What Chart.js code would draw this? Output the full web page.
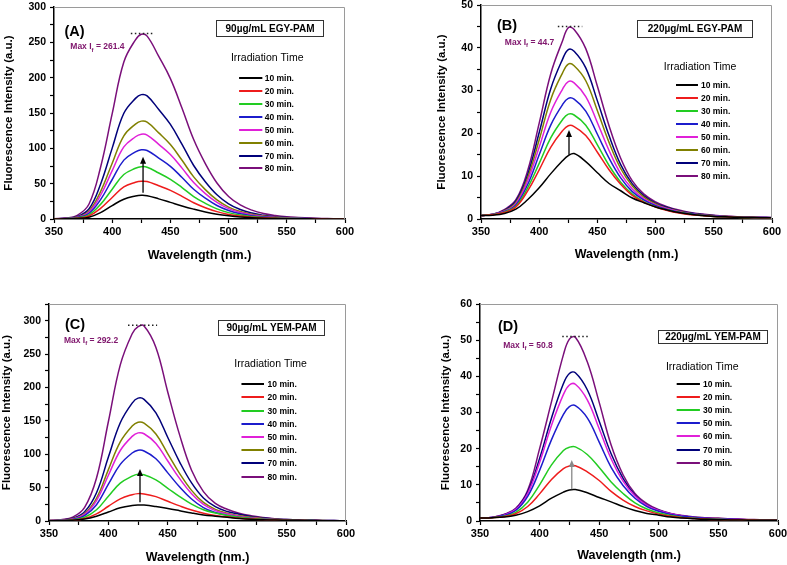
<!DOCTYPE html>
<html>
<head>
<meta charset="utf-8">
<script src="https://cdn.jsdelivr.net/npm/chart.js@4.4.1/dist/chart.umd.min.js"></script>
<style>
  body { margin: 0; background: #fff; width: 787px; height: 565px; position: relative; overflow: hidden; }
  canvas { position: absolute; }
</style>
</head>
<body>
<canvas id="chartA" width="390" height="280" style="left:0;top:0"></canvas>
<canvas id="chartB" width="397" height="280" style="left:390px;top:0"></canvas>
<canvas id="chartC" width="390" height="285" style="left:0;top:280px"></canvas>
<canvas id="chartD" width="397" height="285" style="left:390px;top:280px"></canvas>
<script>
// wavelength grid (nm)
var wavelength = [350,360,370,380,390,400,410,420,425,430,440,450,460,470,480,490,500,510,520,530,540,550,560,570,580,590,600];

var timesABC = ['10 min.','20 min.','30 min.','40 min.','50 min.','60 min.','70 min.','80 min.'];
var timesD = ['10 min.','20 min.','30 min.','50 min.','60 min.','70 min.','80 min.'];
var colorsABC = ['#000000','#ee1c1c','#22cc22','#1c1ccc','#e020d8','#808000','#00007a','#7a0f7a'];
var colorsD = ['#000000','#ee1c1c','#22cc22','#1c1ccc','#e020d8','#00007a','#7a0f7a'];

// (A) 90ug/mL EGY-PAM
var egy90 = [
  [0.1,0.2,0.7,2.5,9,19,28,32.5,33.5,33,28.5,23.5,18.5,14,10,6.8,4.5,2.8,1.8,1.1,0.7,0.4,0.3,0.2,0.1,0.1,0],
  [0.1,0.3,1.1,4.2,15,30.5,45.5,52,53.5,53,47,40.5,32.1,23,16,10.4,6.5,4.1,2.6,1.6,1,0.6,0.4,0.3,0.2,0.1,0.1],
  [0.2,0.4,1.5,5.9,20.7,42.2,62.9,71.8,74,73.3,65.1,56.2,44.4,31.8,22.2,14.4,9,5.6,3.6,2.2,1.4,0.9,0.6,0.4,0.2,0.1,0.1],
  [0.2,0.5,2,7.8,27.4,55.9,83.3,95,98,97,86.2,74.5,58.8,42.1,29.4,19.1,12,7.4,4.7,2.9,1.9,1.2,0.8,0.5,0.3,0.2,0.1],
  [0.2,0.6,2.4,9.6,33.6,68.4,102,116.4,120,118.8,105.6,91.2,72,51.6,36,23.4,14.6,9.1,5.8,3.6,2.3,1.4,1,0.6,0.4,0.2,0.1],
  [0.3,0.7,2.8,11.1,38.8,78.9,117.7,134.3,138.5,137.1,121.9,105.3,83.1,59.6,41.6,27,16.9,10.5,6.6,4.2,2.6,1.7,1.1,0.7,0.4,0.3,0.1],
  [0.4,0.9,3.5,14.1,49.3,100.3,149.6,170.7,176,174.2,154.9,133.8,105.6,75.7,52.8,34.3,21.5,13.4,8.4,5.3,3.3,2.1,1.4,0.9,0.5,0.4,0.2],
  [0.5,1.3,5.2,20.9,73.2,149,222.2,253.6,261.4,258.8,230,198.7,156.8,112.4,78.4,51,31.9,19.9,12.5,7.8,5,3.1,2.1,1.3,0.8,0.5,0.3]
];

// (B) 220ug/mL EGY-PAM
var egy220 = [
  [0.8,0.9,1.3,2.3,4.5,7.3,10.6,13.6,14.8,15.3,13.4,10.8,8.3,6.6,4.9,3.8,2.8,2.1,1.5,1.1,0.8,0.6,0.5,0.4,0.35,0.3,0.3],
  [0.8,1,1.5,2.8,6.5,11.5,16.8,20.6,21.8,21.6,19.5,15.6,11.5,8.1,5.5,3.9,2.8,2,1.4,1,0.8,0.6,0.5,0.4,0.35,0.3,0.3],
  [0.8,1,1.6,3,7.2,13,19,23.2,24.5,24.3,21.9,17.3,12.5,8.6,5.8,4,2.9,2.1,1.5,1.1,0.8,0.6,0.5,0.4,0.35,0.3,0.3],
  [0.8,1,1.7,3.3,8,15,22,26.7,28.2,28,25.2,19.8,14.2,9.6,6.4,4.4,3.1,2.2,1.6,1.2,0.9,0.7,0.5,0.45,0.4,0.35,0.3],
  [0.8,1.05,1.8,3.6,8.9,16.8,25,30.3,32.1,31.8,28.6,22.5,16,10.6,7,4.7,3.3,2.4,1.7,1.2,0.9,0.7,0.55,0.45,0.4,0.35,0.3],
  [0.8,1.05,1.9,3.9,9.6,18.5,28,34.1,36.2,35.8,32.3,25.3,17.9,11.8,7.7,5.1,3.5,2.5,1.8,1.3,1,0.75,0.6,0.5,0.4,0.35,0.3],
  [0.8,1.1,2,4.2,10.3,20.2,30.5,37.3,39.6,39.2,35.3,27.6,19.5,12.7,8.2,5.4,3.7,2.7,1.9,1.4,1.05,0.8,0.6,0.5,0.4,0.35,0.3],
  [0.8,1.1,2.2,4.5,11.2,22.4,34,41.6,44.7,44.3,39.8,31,21.8,14.2,8.9,5.8,4,2.9,2.1,1.5,1.15,0.9,0.7,0.55,0.45,0.4,0.35]
];

// (C) 90ug/mL YEM-PAM
var yem90 = [
  [0.2,0.4,1.2,2.9,7.2,13.4,19.7,23.3,24,23.8,21.6,18.7,15.4,12,9.1,7.2,5.5,3.8,2.6,1.9,1.4,1.2,1,0.7,0.5,0.5,0.2],
  [0.2,0.5,1.2,3.7,10.7,22.1,33.2,39.4,41,40.6,36.5,29.5,22.6,16.4,11.5,8.2,6.2,4.1,2.9,2.1,1.4,1,0.7,0.5,0.4,0.3,0.2],
  [0.4,0.7,1.8,5.6,16.8,37.1,56.7,67.2,70,69.3,61.6,49,36.4,25.2,16.8,11.9,8.4,5.6,3.9,2.8,1.9,1.3,0.9,0.6,0.5,0.4,0.2],
  [0.4,0.8,2.3,8,24.4,55.1,84.8,101.8,106,104.9,93.3,72.1,50.9,32.9,20,12.6,8.4,5.8,3.9,2.7,1.8,1.3,0.8,0.6,0.4,0.3,0.2],
  [0.5,1.1,2.9,9.9,30.4,68.6,105.6,126.7,132,130.7,116.2,89.8,63.4,40.9,24.8,15.6,10.4,7.3,4.9,3.3,2.2,1.6,1.1,0.8,0.5,0.4,0.3],
  [0.6,1.2,3.3,11.1,34,77,118.4,142.1,148,146.5,130.2,100.6,71,45.9,27.8,17.5,11.6,8.1,5.5,3.7,2.5,1.8,1.2,0.9,0.6,0.4,0.3],
  [0.7,1.5,4,13.8,42.3,95.7,147.2,176.6,184,182.2,161.9,125.1,88.3,57,34.5,21.5,14.2,10.1,6.8,4.6,3.1,2.2,1.5,1.1,0.7,0.6,0.4],
  [0.9,2,5.8,20.5,64.3,149,233.8,280.5,291,292.2,260,192.9,128.6,76,44,26.3,17.5,11.7,7.9,5.3,3.5,2.3,1.5,1.2,0.9,0.6,0.3]
];

// (D) 220ug/mL YEM-PAM
var yem220 = [
  [0.8,0.9,1.1,1.6,2.6,4.2,6.3,8,8.6,8.7,7.8,6.5,5.3,4,2.9,2.1,1.6,1.1,0.8,0.6,0.45,0.35,0.3,0.25,0.2,0.2,0.2],
  [0.8,0.9,1.2,2,4,7.5,11.5,14.5,15.2,15.3,13.6,11.2,8.2,5.8,4,2.8,1.9,1.3,0.9,0.7,0.5,0.4,0.35,0.3,0.25,0.2,0.2],
  [0.8,0.9,1.3,2.4,5.2,10,15.5,19.5,20.4,20.5,18.4,14.8,10.8,7.6,5,3.3,2.2,1.5,1,0.75,0.55,0.45,0.35,0.3,0.25,0.2,0.2],
  [0.8,0.95,1.5,2.9,6.8,14,22.5,29.5,31.6,31.9,28.5,21.8,14.8,9.8,6.3,4,2.7,1.8,1.3,0.95,0.7,0.55,0.45,0.35,0.3,0.25,0.25],
  [0.8,1,1.6,3.2,7.6,16.2,26.5,35,37.6,37.8,33.5,25.5,17.2,11,6.9,4.3,2.9,2,1.4,1,0.75,0.6,0.5,0.4,0.3,0.25,0.25],
  [0.8,1,1.7,3.3,8,17.3,28.5,38,40.8,41,36.3,27.6,18.6,11.8,7.1,4.4,3,2,1.4,1,0.8,0.6,0.5,0.4,0.3,0.3,0.25],
  [0.8,1,1.8,3.5,8.5,20,33,46,50.3,50.8,44,32.8,21,12.8,7.6,4.8,3.1,2.1,1.5,1.1,0.9,0.8,0.6,0.5,0.4,0.35,0.3]
];

var FONT = "'Liberation Sans', Arial, sans-serif";

function decorPlugin(o) {
  return {
    id: 'decor',
    afterDraw: function(chart) {
      var ctx = chart.ctx, ca = chart.chartArea;
      var xs = chart.scales.x, ys = chart.scales.y;
      var px = function(v) { return xs.getPixelForValue(v); };
      var py = function(v) { return ys.getPixelForValue(v); };
      ctx.save();

      // grey top / right frame
      ctx.strokeStyle = '#9a9a9a';
      ctx.lineWidth = 1;
      ctx.beginPath();
      ctx.moveTo(ca.left, ca.top + 0.5);
      ctx.lineTo(ca.right - 0.5, ca.top + 0.5);
      ctx.lineTo(ca.right - 0.5, ca.bottom);
      ctx.stroke();

      // panel letter
      ctx.fillStyle = '#000';
      ctx.textBaseline = 'middle';
      ctx.textAlign = 'left';
      ctx.font = 'bold 14.5px ' + FONT;
      ctx.fillText(o.letter, px(o.letterAt[0]), py(o.letterAt[1]));

      // sample box
      var b = o.box;
      var bx = Math.round(px(b[0])) + 0.5, by = Math.round(py(b[2])) + 0.5;
      var bw = Math.round(px(b[1]) - px(b[0])), bh = Math.round(py(b[3]) - py(b[2]));
      ctx.strokeStyle = '#333';
      ctx.lineWidth = 1;
      ctx.strokeRect(bx, by, bw, bh);
      ctx.font = 'bold 10px ' + FONT;
      ctx.textAlign = 'center';
      ctx.fillText(o.sample, bx + bw / 2, by + bh / 2 + 0.5);

      // dotted line over the top peak
      ctx.strokeStyle = '#222';
      ctx.lineWidth = 1.5;
      ctx.setLineDash([1.5, 2.5]);
      ctx.beginPath();
      ctx.moveTo(px(o.dots[0]), py(o.dots[2]));
      ctx.lineTo(px(o.dots[1]), py(o.dots[2]));
      ctx.stroke();
      ctx.setLineDash([]);

      // Max I_f label
      var top = o.series[o.series.length - 1];
      var maxVal = Math.max.apply(null, top).toFixed(1);
      var mx = px(o.maxAt[0]), my = py(o.maxAt[1]);
      ctx.fillStyle = '#80186e';
      ctx.textAlign = 'left';
      ctx.font = 'bold 8.5px ' + FONT;
      ctx.fillText('Max I', mx, my);
      mx += ctx.measureText('Max I').width;
      ctx.font = 'bold 6px ' + FONT;
      ctx.fillText('f', mx, my + 3);
      mx += ctx.measureText('f').width;
      ctx.font = 'bold 8.5px ' + FONT;
      ctx.fillText(' = ' + maxVal, mx, my);

      // arrow
      var ax = px(o.arrow[0]), ay1 = py(o.arrow[1]), ay2 = py(o.arrow[2]);
      ctx.strokeStyle = o.arrowColor;
      ctx.fillStyle = o.arrowColor;
      ctx.lineWidth = 1.3;
      ctx.beginPath();
      ctx.moveTo(ax, ay1);
      ctx.lineTo(ax, ay2 + 5);
      ctx.stroke();
      ctx.beginPath();
      ctx.moveTo(ax, ay2);
      ctx.lineTo(ax - 3, ay2 + 7);
      ctx.lineTo(ax + 3, ay2 + 7);
      ctx.closePath();
      ctx.fill();

      // legend
      ctx.fillStyle = '#000';
      ctx.font = '10.5px ' + FONT;
      ctx.fillText('Irradiation Time', px(o.legTitle[0]), py(o.legTitle[1]));
      ctx.font = 'bold 8.5px ' + FONT;
      for (var i = 0; i < o.labels.length; i++) {
        var ly = Math.round(py(o.leg[3] + i * o.leg[4]));
        ctx.strokeStyle = o.colors[i];
        ctx.lineWidth = 2;
        ctx.beginPath();
        ctx.moveTo(px(o.leg[0]), ly);
        ctx.lineTo(px(o.leg[1]), ly);
        ctx.stroke();
        ctx.fillStyle = '#000';
        ctx.fillText(o.labels[i], px(o.leg[2]), ly + 0.5);
      }
      ctx.restore();
    }
  };
}

function makeChart(id, o) {
  var datasets = o.series.map(function(s, i) {
    return {
      label: o.labels[i],
      data: wavelength.map(function(w, j) { return { x: w, y: s[j] }; }),
      borderColor: o.colors[i],
      borderWidth: 1.5,
      pointRadius: 0,
      tension: 0.4,
      fill: false
    };
  });
  return new Chart(document.getElementById(id), {
    type: 'line',
    data: { datasets: datasets },
    plugins: [decorPlugin(o)],
    options: {
      responsive: false,
      animation: false,
      devicePixelRatio: 1,
      layout: { padding: o.pad },
      plugins: { legend: { display: false }, tooltip: { enabled: false } },
      scales: {
        x: {
          type: 'linear', min: 350, max: 600,
          afterFit: function(s) { s.height = o.xh; s.paddingLeft = 0; s.paddingRight = 0; },
          ticks: {
            stepSize: 25, autoSkip: false, maxRotation: 0, padding: 2, color: '#000',
            font: { family: FONT, size: 11, weight: 'bold' },
            callback: function(v) { return v % 50 === 0 ? v : ''; }
          },
          grid: { drawOnChartArea: false, tickLength: 4, color: '#000', tickWidth: 1.2 },
          border: { color: '#000', width: 1.5 },
          title: { display: true, text: 'Wavelength (nm.)', color: '#000', padding: 0,
                   font: { family: FONT, size: 12.5, weight: 'bold' } }
        },
        y: {
          min: 0, max: o.yMax,
          afterFit: function(s) { s.width = o.yw; s.paddingTop = 0; s.paddingBottom = 0; },
          ticks: {
            stepSize: o.yStep, autoSkip: false, padding: 4, color: '#000',
            font: { family: FONT, size: 10.5, weight: 'bold' },
            callback: function(v) { return v % o.yLabel === 0 ? v : ''; }
          },
          grid: { drawOnChartArea: false, tickLength: 4, color: '#000', tickWidth: 1.2 },
          border: { color: '#000', width: 1.5 },
          title: { display: true, text: 'Fluorescence Intensity (a.u.)', color: '#000', padding: 0,
                   font: { family: FONT, size: 11.5, weight: 'bold' } }
        }
      }
    }
  });
}

makeChart('chartA', {
  series: egy90, labels: timesABC, colors: colorsABC,
  yMax: 300, yStep: 25, yLabel: 50,
  pad: { left: 2, right: 45, top: 7, bottom: 17 }, yw: 52, xh: 44,
  letter: '(A)', letterAt: [359, 264],
  sample: '90\u00b5g/mL EGY-PAM', box: [489, 581, 282, 259],
  dots: [416, 436, 262.5], maxAt: [364, 243.5],
  arrow: [426.5, 37, 88], arrowColor: '#000',
  legTitle: [502, 227], leg: [509, 529, 531, 199, -18.2]
});

makeChart('chartB', {
  series: egy220, labels: timesABC, colors: colorsABC,
  yMax: 50, yStep: 5, yLabel: 10,
  pad: { left: 45, right: 15, top: 5, bottom: 18 }, yw: 46, xh: 43,
  letter: '(B)', letterAt: [363.7, 45],
  sample: '220\u00b5g/mL EGY-PAM', box: [484, 583, 46.4, 42.5],
  dots: [416, 437, 45], maxAt: [370.5, 41.3],
  arrow: [425.6, 15, 20.8], arrowColor: '#000',
  legTitle: [507, 35.4], leg: [517.5, 536.4, 539, 31.4, -3.06]
});

makeChart('chartC', {
  series: yem90, labels: timesABC, colors: colorsABC,
  yMax: 325, yStep: 25, yLabel: 50,
  pad: { left: 0, right: 44, top: 24, bottom: 0 }, yw: 49, xh: 44,
  letter: '(C)', letterAt: [363.5, 294],
  sample: '90\u00b5g/mL YEM-PAM', box: [492, 581, 301, 279],
  dots: [416.5, 441, 293], maxAt: [362.6, 270],
  arrow: [426.6, 28, 78], arrowColor: '#000',
  legTitle: [506, 235], leg: [512, 531, 534, 205, -19.8]
});

makeChart('chartD', {
  series: yem220, labels: timesD, colors: colorsD,
  yMax: 60, yStep: 5, yLabel: 10,
  pad: { left: 49, right: 9, top: 24, bottom: 2 }, yw: 41, xh: 42,
  letter: '(D)', letterAt: [365, 53.7],
  sample: '220\u00b5g/mL YEM-PAM', box: [499, 590.5, 52.8, 49.1],
  dots: [419, 441, 51], maxAt: [369.5, 48.6],
  arrow: [427, 8.8, 16.9], arrowColor: '#888',
  legTitle: [506, 42.5], leg: [515, 534.5, 537, 37.9, -3.63]
});
</script>
</body>
</html>
